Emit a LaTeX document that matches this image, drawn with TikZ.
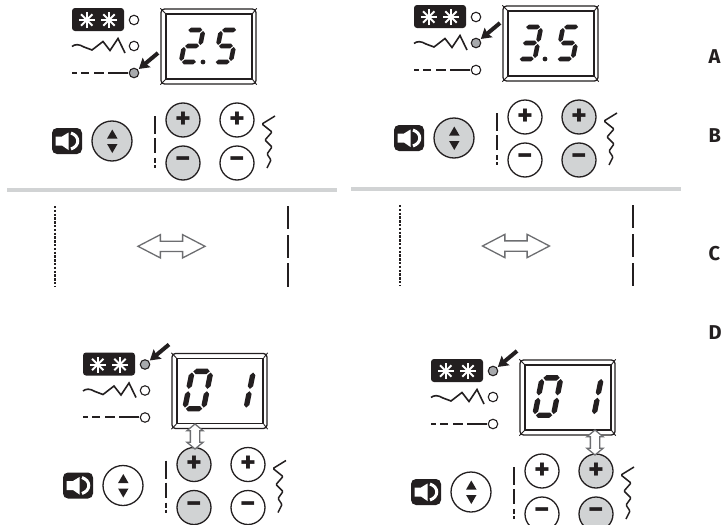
\documentclass[tikz,border=0pt]{standalone}
\usepackage{fontspec}
\setmainfont{Fira Sans}
\usetikzlibrary{arrows.meta,calc,shapes.arrows}
\definecolor{panelgray}{HTML}{D1D3D4}
\definecolor{ledgray}{HTML}{A7A9AC}
\definecolor{inkblack}{HTML}{231F20}
\definecolor{arrowgray}{HTML}{6D6E71}
\tikzset{
  wire/.style      = {line width=1.3pt, inkblack},
  ledspot/.style   = {circle, draw=inkblack, line width=1.1pt, minimum size=9.5pt, inner sep=0pt},
  keycap/.style    = {circle, draw=inkblack, line width=1.3pt, minimum size=34pt, inner sep=0pt,
                      text=inkblack, font=\fontsize{30}{30}\selectfont\bfseries},
  darkbox/.style   = {fill=inkblack, rounded corners=3pt, inner sep=0pt},
  ledarrow/.style  = {-{Stealth[length=10pt,width=12pt,inset=1.5pt]}, line width=4pt, inkblack, shorten >=1pt},
  divider/.style   = {line width=3.4pt, panelgray},
  openarrow/.style = {double arrow, draw=arrowgray, fill=white, line width=1.3pt, inner sep=0pt,
                      double arrow head indent=0pt},
  sidelabel/.style = {anchor=west, inner sep=0pt, inkblack, font=\fontsize{20}{20}\selectfont\bfseries},
}
% one segment of the display
\newcommand{\hseg}[3]{\fill[inkblack] (#1,#3) -- ++(2.3,-2.3) -- (#2-2.3,#3-2.3) -- (#2,#3)
  -- (#2-2.3,#3+2.3) -- (#1+2.3,#3+2.3) -- cycle;}
\newcommand{\vseg}[3]{\fill[inkblack] (#1,#2) -- ++(2.3,2.3) -- (#1+2.3,#3-2.3) -- (#1,#3)
  -- (#1-2.3,#3-2.3) -- (#1-2.3,#2+2.3) -- cycle;}
\newcommand{\sega}{\hseg{2}{16}{2}}
\newcommand{\segb}{\vseg{17}{3}{17}}
\newcommand{\segc}{\vseg{17}{19}{33}}
\newcommand{\segd}{\hseg{2}{16}{34}}
\newcommand{\sege}{\vseg{1}{19}{33}}
\newcommand{\segf}{\vseg{1}{3}{17}}
\newcommand{\segg}{\hseg{2}{16}{18}}
\newcommand{\segdigit}[4]{\begin{scope}[shift={(#1,#2)},xslant=0.2,scale=#3]
  \foreach \seg in {#4}{\csname seg\seg\endcsname}
\end{scope}}
% prefix, x, y, lit led, fill of the updown key, fill of the two key columns, digits
\newcommand{\panel}[8]{\begin{scope}[shift={(#2,#3)},name prefix=#1-]
  % lamps and symbols
  \node[darkbox, minimum width=52pt, minimum height=23pt] (snow) at (98,19.5) {};
  \foreach \cx in {86.7,109}{
    \foreach \ang in {0,45,90,135}{
      \draw[white, line width=2pt] (\cx,20) ++(\ang:8) -- ++(\ang+180:16);
    }
  }
  \draw[wire, line width=1.6pt] (72,46.5) .. controls (75,44) and (79,44) .. (84,47)
    -- (92,50) -- (103,41.5) -- (110,50.5) -- (118,38.5) -- (125,53);
  \foreach \xa/\xb in {72/77,81/89,94/104,108/128}{
    \draw[wire, line width=1.6pt] (\xa,72.7) -- (\xb,72.7);
  }
  \foreach \n/\yy in {1/20,2/46,3/73}{
    \ifnum\n=#4 \def\ledfill{ledgray}\else\def\ledfill{white}\fi
    \node[ledspot, fill=\ledfill] (led\n) at (134,\yy) {};
  }
  \coordinate (tail) at ($(led#4.center)+(24,-20)$);
  \draw[ledarrow] (tail) -- (led#4);
  % display
  \node[draw=inkblack, line width=1.3pt, rounded corners=3.5pt, minimum width=95pt, minimum height=75pt,
    inner sep=0pt] (frame) at (208.5,46.5) {};
  \node[draw=inkblack, line width=1.3pt, minimum width=86pt, minimum height=65pt,
    inner sep=0pt] (display) at (209,46.5) {};
  \foreach \corner in {north west,north east,south west,south east}{
    \draw[wire, line width=0.9pt] (frame.\corner) -- (display.\corner);
  }
  #8
  % keys
  \node[darkbox, minimum width=30pt, minimum height=26pt, rounded corners=5pt] (speaker) at (67,141) {};
  \fill[white] (55.5,136.5) -- (62,136.5) -- (68.5,132.5) -- (68.5,150) -- (62,145.5) -- (55.5,145.5) -- cycle;
  \draw[white, line width=3pt] (71,133) .. controls (80,136) and (80,146) .. (71,149);
  \node[keycap, minimum size=40pt, fill=#5] (updown) at (112,141) {};
  \fill[inkblack] (112.3,129.5) -- (117.5,138.5) -- (107.1,138.5) -- cycle;
  \fill[inkblack] (112.3,153) -- (117.5,144) -- (107.1,144) -- cycle;
  \foreach \xa/\xb in {116/134,138/153,158/163,165/168}{
    \draw[wire, line width=1.6pt] (155,\xa) -- (155,\xb);
  }
  \node[keycap, fill=#6] (plusa) at (183,120) {+};
  \node[keycap, fill=#6] (minusa) at (183,163) {−};
  \node[keycap, fill=#7] (plusb) at (237,120) {+};
  \node[keycap, fill=#7] (minusb) at (237,163) {−};
  \draw[wire, line width=1.5pt, rounded corners=1pt] (275,116) -- (262,124) -- (272,132) -- (265,140)
    -- (272,147) -- (267,154) -- (271,160) -- (267,168);
\end{scope}}

\begin{document}
\begin{tikzpicture}[x=1pt,y=-1pt]
  \useasboundingbox (0,0) rectangle (721,525);
  \fill[white] (0,0) rectangle (721,525);
  % upper row
  \panel{topl}{0}{0}{3}{panelgray}{panelgray}{white}{%
    \segdigit{186.7}{28}{1}{a,b,g,e,d}
    \fill[inkblack] (203,62) circle (2.4);
    \segdigit{220.5}{28}{1}{a,f,g,c,d}}
  \panel{topr}{342}{-3}{2}{panelgray}{white}{panelgray}{%
    \segdigit{182.5}{28}{1}{a,b,g,c,d}
    \fill[inkblack] (203,62) circle (2.4);
    \segdigit{220.5}{28}{1}{a,f,g,c,d}}
  \draw[divider] (7,190) -- (337,190);
  \draw[divider] (351,189) -- (681,189);
  % stitch lines
  \draw[inkblack, line width=2.4pt, dash pattern=on 2.4pt off 1.4pt] (55,206) -- (55,287);
  \foreach \xa/\xb in {206/229.3,235/257.7,263.3/287}{
    \draw[inkblack, line width=2.2pt] (288,\xa) -- (288,\xb);
  }
  \node[openarrow, minimum height=67pt, minimum width=23pt, double arrow head extend=6.5pt,
    double arrow tip angle=55] (widthl) at (171.5,246.3) {\rule{0pt}{9pt}};
  \draw[inkblack, line width=2.4pt, dash pattern=on 2.4pt off 1.4pt] (400,205) -- (400,286);
  \foreach \xa/\xb in {205/228,234/257,263/286}{
    \draw[inkblack, line width=2.2pt] (633,\xa) -- (633,\xb);
  }
  \node[openarrow, minimum height=67pt, minimum width=23pt, double arrow head extend=6.5pt,
    double arrow tip angle=55] (widthr) at (516,246) {\rule{0pt}{9pt}};
  % lower row
  \panel{botl}{11}{344.5}{1}{white}{panelgray}{white}{%
    \segdigit{180.5}{24.5}{1.17}{a,b,c,d,e,f}
    \segdigit{223}{24.5}{1.17}{b,c}}
  \panel{botr}{359}{351}{1}{white}{white}{panelgray}{%
    \segdigit{182.5}{24.5}{1.17}{a,b,c,d,e,f}
    \segdigit{223}{24.5}{1.17}{b,c}}
  \node[openarrow, minimum height=25pt, minimum width=16pt, double arrow head extend=3.5pt,
    double arrow tip angle=100, shape border rotate=90] (adjustl) at (195,436.5) {\rule{8pt}{0pt}};
  \node[openarrow, minimum height=25pt, minimum width=16pt, double arrow head extend=3.5pt,
    double arrow tip angle=100, shape border rotate=90] (adjustr) at (595,442.5) {\rule{8pt}{0pt}};
  % side letters
  \node[sidelabel] (labela) at (708.5,56.5) {A};
  \node[sidelabel] (labelb) at (708.5,135.5) {B};
  \node[sidelabel] (labelc) at (708.5,254) {C};
  \node[sidelabel] (labeld) at (708.5,332.5) {D};
\end{tikzpicture}
\end{document}
